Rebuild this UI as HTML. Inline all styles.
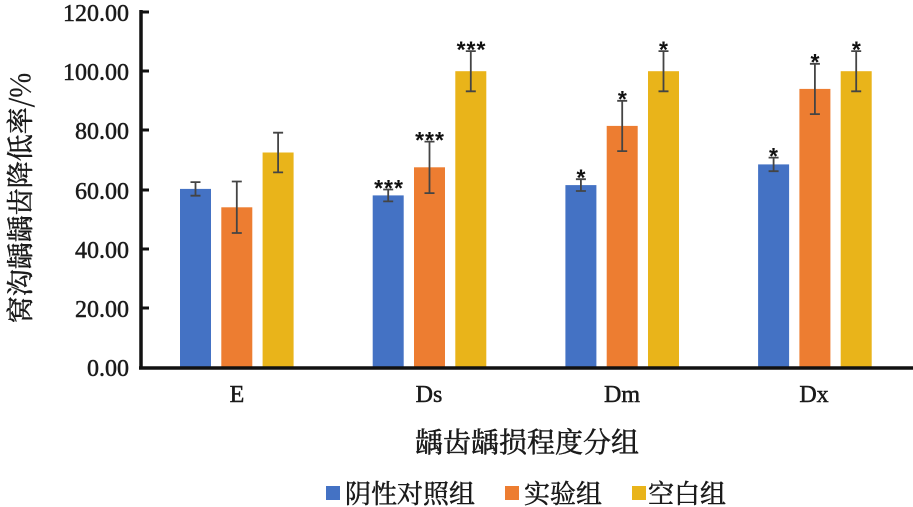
<!DOCTYPE html><html><head><meta charset="utf-8"><style>body{margin:0;background:#fff}svg{display:block}</style></head><body>
<svg width="913" height="507" xmlns="http://www.w3.org/2000/svg">
<g font-family="Liberation Serif, Noto Serif CJK SC, serif" fill="#1a1a1a" stroke="#1a1a1a" stroke-width="0.5">
<g font-size="24" text-anchor="end">
<text x="129" y="21">120.00</text><text x="129" y="80">100.00</text><text x="129" y="139">80.00</text><text x="129" y="199">60.00</text><text x="129" y="258">40.00</text><text x="129" y="317">20.00</text><text x="129" y="376">0.00</text>
</g>
<text transform="translate(30,198) rotate(-90)" font-size="27" text-anchor="middle" font-family="Noto Serif CJK SC, serif">窝沟龋龋齿降低率/%</text>
<g font-size="24" text-anchor="middle"><text x="237" y="402">E</text><text x="429" y="402">Ds</text><text x="622" y="402">Dm</text><text x="814" y="402">Dx</text></g>
<text x="527" y="452" font-size="28" text-anchor="middle" font-family="Noto Serif CJK SC, serif">龋齿龋损程度分组</text>
<g font-size="26" font-family="Noto Serif CJK SC, serif">
<rect x="326" y="486" width="14" height="14" fill="#4472c4" stroke="none"/><text x="345" y="503">阴性对照组</text>
<rect x="505" y="486" width="14" height="14" fill="#ed7d31" stroke="none"/><text x="524" y="503">实验组</text>
<rect x="632" y="486" width="14" height="14" fill="#e9b41a" stroke="none"/><text x="648" y="503">空白组</text>
</g>
</g>
<g>
<rect x="180" y="188.9" width="31" height="178.1" fill="#4472c4"/>
<rect x="221.3" y="207.3" width="31" height="159.7" fill="#ed7d31"/>
<rect x="262.6" y="152.5" width="31" height="214.5" fill="#e9b41a"/>
<rect x="372.7" y="195.4" width="31" height="171.6" fill="#4472c4"/>
<rect x="414" y="167.3" width="31" height="199.7" fill="#ed7d31"/>
<rect x="455.3" y="71.2" width="31" height="295.8" fill="#e9b41a"/>
<rect x="565.4" y="185.1" width="31" height="181.9" fill="#4472c4"/>
<rect x="606.7" y="125.9" width="31" height="241.1" fill="#ed7d31"/>
<rect x="648" y="71.2" width="31" height="295.8" fill="#e9b41a"/>
<rect x="758.1" y="164.4" width="31" height="202.6" fill="#4472c4"/>
<rect x="799.4" y="88.9" width="31" height="278.1" fill="#ed7d31"/>
<rect x="840.7" y="71.2" width="31" height="295.8" fill="#e9b41a"/>
</g>
<g stroke="#444" stroke-width="1.8" fill="none">
<path d="M195.5 182.1V195.7M190.5 182.1H200.5M190.5 195.7H200.5"/>
<path d="M236.8 181.5V233M231.8 181.5H241.8M231.8 233H241.8"/>
<path d="M278.1 132.7V172.4M273.1 132.7H283.1M273.1 172.4H283.1"/>
<path d="M388.2 189.5V201.4M383.2 189.5H393.2M383.2 201.4H393.2"/>
<path d="M429.5 141.6V193.1M424.5 141.6H434.5M424.5 193.1H434.5"/>
<path d="M470.8 51.1V91.3M465.8 51.1H475.8M465.8 91.3H475.8"/>
<path d="M580.9 179.2V191M575.9 179.2H585.9M575.9 191H585.9"/>
<path d="M622.2 100.8V151.1M617.2 100.8H627.2M617.2 151.1H627.2"/>
<path d="M663.5 51.1V91.3M658.5 51.1H668.5M658.5 91.3H668.5"/>
<path d="M773.6 157.6V171.2M768.6 157.6H778.6M768.6 171.2H778.6"/>
<path d="M814.9 63.8V114.1M809.9 63.8H819.9M809.9 114.1H819.9"/>
<path d="M856.2 51.1V91.3M851.2 51.1H861.2M851.2 91.3H861.2"/>
</g>
<g font-family="Liberation Sans, sans-serif" font-weight="bold" font-size="23" text-anchor="middle" fill="#111" letter-spacing="1">
<text x="389" y="196">***</text><text x="430" y="148">***</text><text x="471.5" y="57.5">***</text>
<text x="581.5" y="185.5">*</text><text x="622.8" y="107">*</text><text x="664" y="57.5">*</text>
<text x="774" y="164">*</text><text x="815.5" y="70">*</text><text x="856.8" y="57.5">*</text>
</g>
<g stroke="#111" stroke-width="3.5"><line x1="141" y1="10" x2="141" y2="369"/><line x1="139" y1="368" x2="913" y2="368"/>
<g stroke-width="3"><line x1="141" y1="12" x2="149" y2="12"/><line x1="141" y1="71" x2="149" y2="71"/><line x1="141" y1="130" x2="149" y2="130"/><line x1="141" y1="190" x2="149" y2="190"/><line x1="141" y1="249" x2="149" y2="249"/><line x1="141" y1="308" x2="149" y2="308"/></g></g>
</svg></body></html>
